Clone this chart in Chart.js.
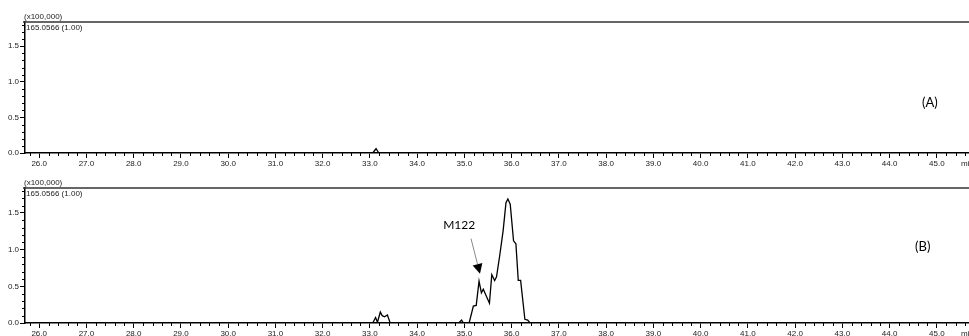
<!DOCTYPE html>
<html>
<head>
<meta charset="utf-8">
<script src="https://cdn.jsdelivr.net/npm/chart.js@4.4.1/dist/chart.umd.min.js"></script>
<style>
  html, body { margin: 0; padding: 0; background: #fff; }
  canvas { display: block; }
</style>
</head>
<body>
<canvas id="panelA" width="969" height="166"></canvas>
<canvas id="panelB" width="969" height="170"></canvas>
<script>
// retention time (min) / intensity (x100,000)
const timeA = [25.7, 33.06, 33.13, 33.19, 45.68];
const intensityA = [0, 0, 0.06, 0, 0];

const timeB = [25.7, 33.06, 33.12, 33.16, 33.22, 33.26, 33.31, 33.37, 33.43,
  34.88, 34.94, 34.98, 35.10, 35.19, 35.25, 35.31, 35.36, 35.40, 35.53, 35.58,
  35.64, 35.68, 35.75, 35.82, 35.88, 35.92, 35.97, 36.04, 36.09, 36.14, 36.19,
  36.28, 36.34, 36.39, 45.68];
const intensityB = [0, 0, 0.075, 0.01, 0.15, 0.10, 0.085, 0.11, 0,
  0, 0.04, 0, 0, 0.23, 0.24, 0.57, 0.41, 0.46, 0.27, 0.66,
  0.58, 0.63, 0.93, 1.26, 1.64, 1.69, 1.62, 1.12, 1.08, 0.58, 0.58,
  0.05, 0.04, 0, 0];

const xTicks = [26, 27, 28, 29, 30, 31, 32, 33, 34, 35, 36, 37, 38, 39, 40, 41, 42, 43, 44, 45];
const yTicks = [0, 0.5, 1.0, 1.5];

const X_MIN = 25.7, X_MAX = 45.68, Y_MAX = 1.84;
const tickFont = { family: 'Liberation Sans, Arial, sans-serif', size: 8 };

// minor ticks, axis cap line and the panel captions
const decor = {
  id: 'decor',
  afterDraw(chart, args, opts) {
    const { ctx, chartArea: area, scales: { x, y } } = chart;
    ctx.save();
    ctx.strokeStyle = '#000';
    ctx.lineWidth = 1;
    ctx.beginPath();
    for (let i = Math.ceil(X_MIN * 5); i <= Math.floor(X_MAX * 5); i++) {
      if (i % 5 === 0) continue;
      const px = Math.round(x.getPixelForValue(i / 5)) + 0.5;
      ctx.moveTo(px, area.bottom);
      ctx.lineTo(px, area.bottom + 3);
    }
    for (let i = 1; i <= Math.floor(Y_MAX * 10); i++) {
      if (i % 5 === 0) continue;
      const py = Math.round(y.getPixelForValue(i / 10)) + 0.5;
      ctx.moveTo(area.left, py);
      ctx.lineTo(area.left - 3, py);
    }
    ctx.stroke();

    // top frame line
    ctx.strokeStyle = '#333';
    ctx.lineWidth = 1.6;
    ctx.beginPath();
    ctx.moveTo(area.left - 2, area.top);
    ctx.lineTo(chart.width, area.top);
    ctx.stroke();

    ctx.fillStyle = '#222';
    ctx.font = '8px Liberation Sans, Arial, sans-serif';
    ctx.textBaseline = 'alphabetic';
    ctx.textAlign = 'left';
    ctx.fillText('(x100,000)', area.left - 1, area.top - 3);
    ctx.fillText('165.0566 (1.00)', area.left + 1, area.top + 8);
    ctx.textBaseline = 'middle';
    ctx.fillText('min', chart.width - 8, area.bottom + 11);

    ctx.fillStyle = '#000';
    ctx.font = '13px Lato, "Open Sans", sans-serif';
    ctx.textAlign = 'center';
    ctx.fillText(opts.tag, x.getPixelForValue(opts.tagX), y.getPixelForValue(opts.tagY));

    if (opts.note) {
      const n = opts.note;
      ctx.font = '12px Lato, "Open Sans", sans-serif';
      ctx.fillText(n.label, x.getPixelForValue(n.textX), y.getPixelForValue(n.textY));
      const tx = x.getPixelForValue(n.fromX), ty = y.getPixelForValue(n.fromY);
      const hx = x.getPixelForValue(n.toX), hy = y.getPixelForValue(n.toY);
      const ang = Math.atan2(hy - ty, hx - tx);
      const headLen = 10, headHalf = 5;
      const bx = hx - headLen * Math.cos(ang), by = hy - headLen * Math.sin(ang);
      ctx.strokeStyle = '#888';
      ctx.lineWidth = 1;
      ctx.beginPath();
      ctx.moveTo(tx, ty);
      ctx.lineTo(bx, by);
      ctx.stroke();
      ctx.fillStyle = '#000';
      ctx.beginPath();
      ctx.moveTo(hx, hy);
      ctx.lineTo(bx + headHalf * Math.sin(ang), by - headHalf * Math.cos(ang));
      ctx.lineTo(bx - headHalf * Math.sin(ang), by + headHalf * Math.cos(ang));
      ctx.closePath();
      ctx.fill();
    }
    ctx.restore();
  }
};

function render_panel(canvasId, times, values, decorOpts) {
  const ctx = document.getElementById(canvasId).getContext('2d');
  return new Chart(ctx, {
    type: 'scatter',
    data: {
      datasets: [{
        data: times.map((t, i) => ({ x: t, y: values[i] })),
        showLine: true,
        borderColor: '#000',
        borderWidth: 1.3,
        pointRadius: 0,
        tension: 0
      }]
    },
    options: {
      responsive: false,
      animation: false,
      devicePixelRatio: 1,
      layout: { padding: { top: 22, right: 0, left: 0, bottom: 0 } },
      scales: {
        x: {
          type: 'linear',
          min: X_MIN,
          max: X_MAX,
          afterBuildTicks: s => { s.ticks = xTicks.map(v => ({ value: v })); },
          afterFit: s => { s.height = 13; },
          ticks: {
            callback: v => Number(v).toFixed(1),
            font: tickFont,
            color: '#222',
            padding: 1,
            maxRotation: 0,
            autoSkip: false
          },
          grid: { drawOnChartArea: false, tickLength: 5, tickColor: '#000', tickWidth: 1 },
          border: { color: '#000', width: 1.5 }
        },
        y: {
          min: 0,
          max: Y_MAX,
          afterBuildTicks: s => { s.ticks = yTicks.map(v => ({ value: v })); },
          afterFit: s => { s.width = 25; },
          ticks: {
            callback: v => Number(v).toFixed(1),
            font: tickFont,
            color: '#222',
            padding: 1
          },
          grid: { drawOnChartArea: false, tickLength: 5, tickColor: '#000', tickWidth: 1 },
          border: { color: '#000', width: 1.5 }
        }
      },
      plugins: {
        legend: { display: false },
        tooltip: { enabled: false },
        decor: decorOpts
      }
    },
    plugins: [decor]
  });
}

render_panel('panelA', timeA, intensityA, { tag: '(A)', tagX: 44.85, tagY: 0.71 });
render_panel('panelB', timeB, intensityB, {
  tag: '(B)', tagX: 44.7, tagY: 1.04,
  note: { label: 'M122', textX: 34.89, textY: 1.33, fromX: 35.14, fromY: 1.15, toX: 35.33, toY: 0.67 }
});
</script>
</body>
</html>
